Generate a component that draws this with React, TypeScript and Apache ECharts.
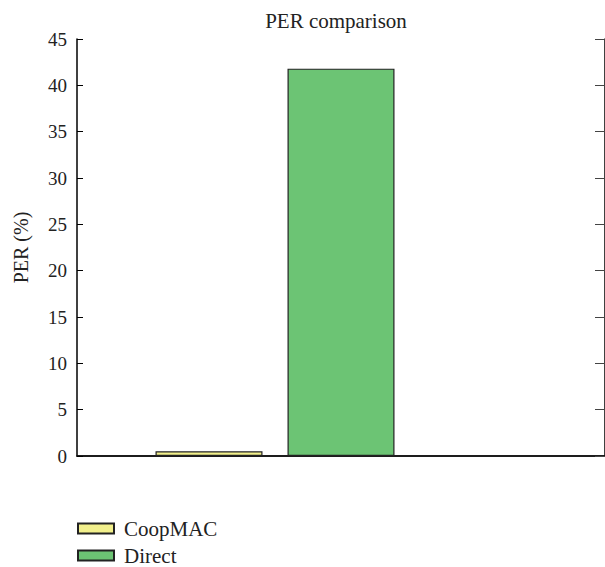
import React, { useEffect, useRef } from "react";
import * as echarts from "echarts";

const slots = ["0", "1", "2", "3", "4"];
const seriesNames = ["CoopMAC", "Direct"];
const coopmacValues: (number | string)[] = ["-", 0.5, "-", "-", "-"];
const directValues: (number | string)[] = ["-", "-", 41.8, "-", "-"];
const yTicks = { min: 0, max: 45, interval: 5 };
const titleText = "PER comparison";
const yName = "PER (%)";

const FONT = "'Liberation Serif', 'DejaVu Serif', serif";

export default function App() {
  const ref = useRef<HTMLDivElement>(null);
  useEffect(() => {
    if (!ref.current) return;
    const chart = echarts.init(ref.current, undefined, { renderer: "svg" });
    chart.setOption({
      animation: false,
      backgroundColor: "#ffffff",
      textStyle: { fontFamily: FONT },
      title: {
        text: titleText,
        left: 331,
        top: 5,
        textAlign: "center",
        textStyle: { fontFamily: FONT, fontSize: 21, fontWeight: "normal", color: "#222" },
      },
      legend: {
        orient: "vertical",
        left: 77,
        top: 518,
        padding: 0,
        itemWidth: 36,
        itemHeight: 10,
        itemGap: 6,
        icon: "rect",
        data: seriesNames,
        textStyle: { fontFamily: FONT, fontSize: 21, lineHeight: 20, color: "#222", padding: [0, 0, 0, 5] },
      },
      grid: { left: 77, top: 39, right: -4, bottom: 111, containLabel: false },
      xAxis: [
        {
          type: "category",
          data: slots,
          boundaryGap: false,
          position: "bottom",
          axisLine: { show: true, lineStyle: { color: "#444", width: 1.5 } },
          axisTick: { show: false },
          axisLabel: { show: false },
          splitLine: { show: false },
        },
        {
          type: "category",
          data: slots,
          boundaryGap: false,
          position: "top",
          axisLine: { show: true, lineStyle: { color: "#000", width: 1.5 } },
          axisTick: { show: false },
          axisLabel: { show: false },
          splitLine: { show: false },
        },
      ],
      yAxis: [
        {
          type: "value",
          min: yTicks.min,
          max: yTicks.max,
          interval: yTicks.interval,
          position: "left",
          name: yName,
          nameLocation: "middle",
          nameGap: 46,
          nameTextStyle: { fontFamily: FONT, fontSize: 20, color: "#222" },
          axisLine: { show: true, lineStyle: { color: "#000", width: 1.5 } },
          axisTick: { show: true, inside: true, length: 6, lineStyle: { color: "#000" } },
          axisLabel: { fontFamily: FONT, fontSize: 19, color: "#222", margin: 10 },
          splitLine: { show: false },
        },
        {
          type: "value",
          min: yTicks.min,
          max: yTicks.max,
          interval: yTicks.interval,
          position: "right",
          axisLine: { show: true, lineStyle: { color: "#000", width: 1.5 } },
          axisTick: { show: true, inside: true, length: 10, lineStyle: { color: "#444" } },
          axisLabel: { show: false },
          splitLine: { show: false },
        },
      ],
      series: [
        {
          name: seriesNames[0],
          type: "bar",
          data: coopmacValues,
          barWidth: 107,
          barGap: "-100%",
          itemStyle: { color: "#f2f08c", borderColor: "#222", borderWidth: 1.2 },
        },
        {
          name: seriesNames[1],
          type: "bar",
          data: directValues,
          barWidth: 107,
          barGap: "-100%",
          itemStyle: { color: "#6cc474", borderColor: "#222", borderWidth: 1.2 },
        },
      ],
    });
    return () => chart.dispose();
  }, []);
  return <div ref={ref} style={{ width: 605, height: 567, position: "absolute", left: 0, top: 0 }} />;
}
